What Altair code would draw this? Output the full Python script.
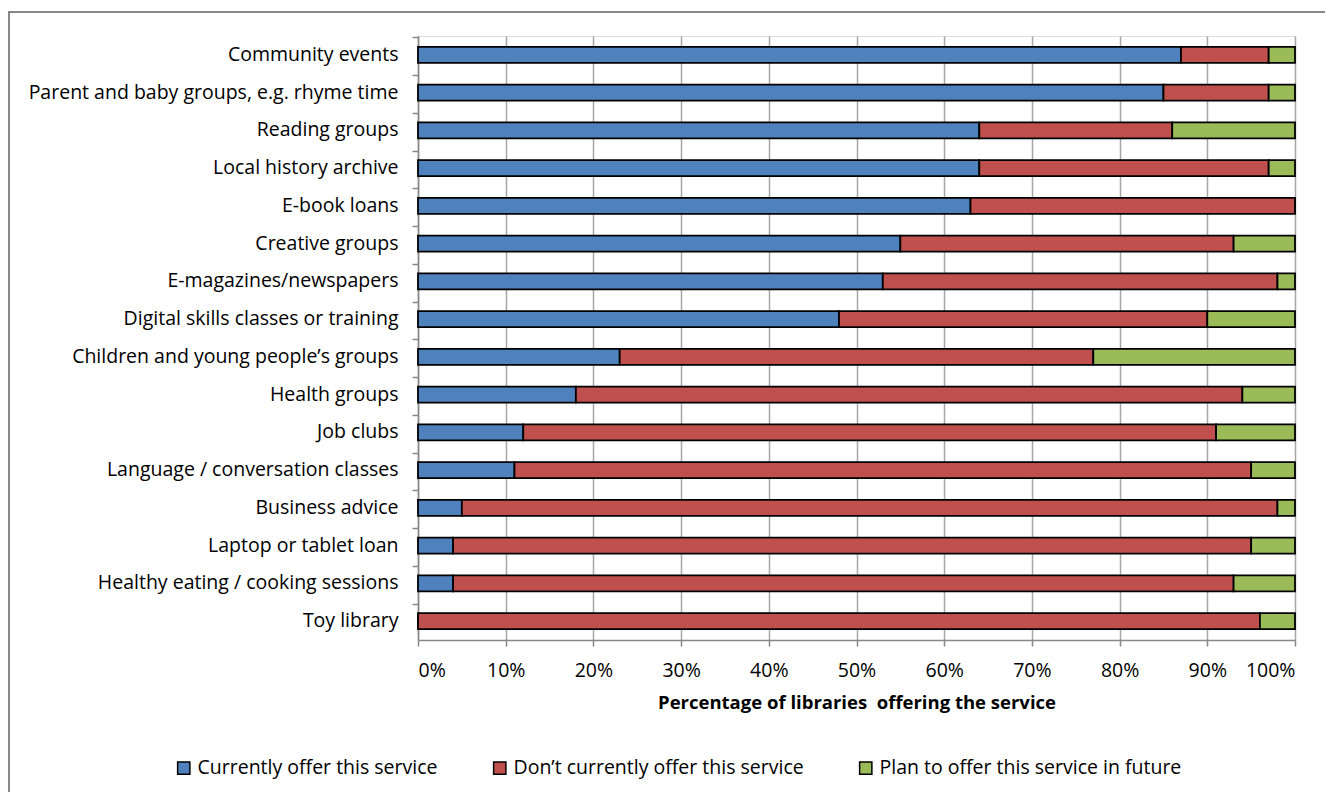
import altair as alt
import pandas as pd

categories = [
    "Community events",
    "Parent and baby groups, e.g. rhyme time",
    "Reading groups",
    "Local history archive",
    "E-book loans",
    "Creative groups",
    "E-magazines/newspapers",
    "Digital skills classes or training",
    "Children and young people\u2019s groups",
    "Health groups",
    "Job clubs",
    "Language / conversation classes",
    "Business advice",
    "Laptop or tablet loan",
    "Healthy eating / cooking sessions",
    "Toy library",
]
currently = [87, 85, 64, 64, 63, 55, 53, 48, 23, 18, 12, 11, 5, 4, 4, 0]
dont = [10, 12, 22, 33, 37, 38, 45, 42, 54, 76, 79, 84, 93, 91, 89, 96]
plan = [3, 3, 14, 3, 0, 7, 2, 10, 23, 6, 9, 5, 2, 5, 7, 4]

series = [
    "Currently offer this service",
    "Don\u2019t currently offer this service",
    "Plan to offer this service in future",
]
colors = ["#4F81BD", "#C0504D", "#9BBB59"]

rows = []
for i, c in enumerate(categories):
    for k, vals in enumerate([currently, dont, plan]):
        rows.append({"category": c, "series": series[k], "order": k, "value": vals[i] / 100})
df = pd.DataFrame(rows)

FONT = "Open Sans"
FS = 19.5

bars = alt.Chart(df).mark_bar(stroke="black", strokeWidth=1.8, size=16).encode(
    y=alt.Y("category:N", sort=categories, title=None,
            axis=alt.Axis(bandPosition=0, labelFontSize=FS, labelFont=FONT, labelColor="#000000",
                          labelPadding=14, tickSize=6, tickColor="#888888", tickWidth=1.5,
                          domainColor="#888888", domainWidth=1.5, grid=False, labelLimit=420)),
    x=alt.X("value:Q", stack="zero", scale=alt.Scale(domain=[0, 1], nice=False),
            title="Percentage of libraries\u00a0 offering the service",
            axis=alt.Axis(format=".0%", values=[i / 10 for i in range(11)], labelFontSize=FS,
                          labelFont=FONT, labelColor="#000000", labelPadding=15,
                          tickSize=6, tickColor="#888888", tickWidth=1.5,
                          domainColor="#888888", domainWidth=1.5,
                          grid=True, gridColor="#A6A6A6", gridWidth=1.5,
                          titleFont=FONT, titleFontSize=18.5, titleFontWeight="bold",
                          titleColor="#000000", titlePadding=14)),
    color=alt.Color("series:N", sort=series, scale=alt.Scale(domain=series, range=colors),
                    legend=alt.Legend(title=None, orient="none", direction="horizontal",
                                      legendX=-244, legendY=722, symbolType="square",
                                      symbolSize=150, symbolStrokeColor="black",
                                      symbolStrokeWidth=1.5, labelFont=FONT, labelFontSize=FS,
                                      labelColor="#000000", columnPadding=52, labelOffset=4,
                                      labelLimit=420)),
    order=alt.Order("order:Q"),
)

border_df = pd.DataFrame({"a": [0]})
left_border = alt.Chart(border_df).mark_rule(color="#888888", strokeWidth=2).encode(
    x=alt.value(-409), y=alt.value(-24), y2=alt.value(900)
)
top_border = alt.Chart(border_df).mark_rule(color="#888888", strokeWidth=2).encode(
    x=alt.value(-410), x2=alt.value(1200), y=alt.value(-24)
)

chart = alt.layer(bars, left_border, top_border).properties(
    width=877, height=604,
    autosize=alt.AutoSizeParams(type="none"),
    padding={"left": 410, "top": 28, "right": 30, "bottom": 170},
).configure_view(stroke=None).configure(background="white")

chart.save("out.html", embed_options={"renderer": "svg", "actions": False})
